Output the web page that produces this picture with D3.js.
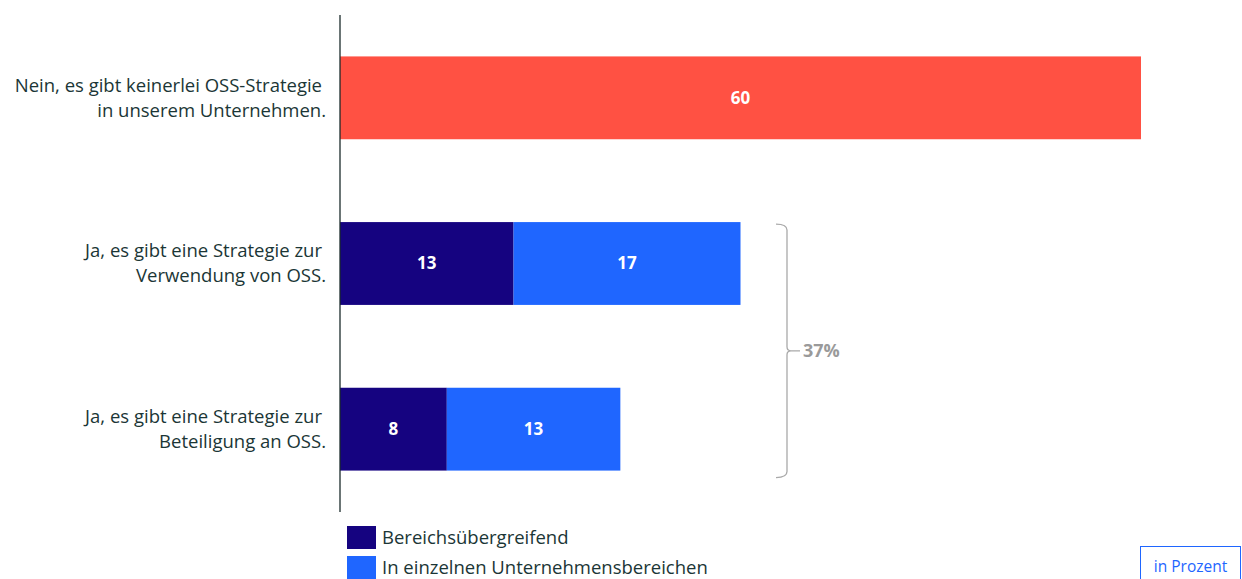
<!DOCTYPE html>
<html>
<head>
<meta charset="utf-8">
<script src="https://cdn.jsdelivr.net/npm/d3@7"></script>
<style>
  html, body { margin: 0; padding: 0; background: #fff; }
  svg { display: block; font-family: "Open Sans", "Noto Sans", sans-serif; }
</style>
</head>
<body>
<svg id="chart" width="1242" height="579"></svg>
<script>
// Categories (two-line labels) and stacked series values in percent
const categories = [
  ["Nein, es gibt keinerlei OSS-Strategie", "in unserem Unternehmen."],
  ["Ja, es gibt eine Strategie zur", "Verwendung von OSS."],
  ["Ja, es gibt eine Strategie zur", "Beteiligung an OSS."]
];
const noStrategy = [60, 0, 0];
const crossDept = [0, 13, 8];
const singleDept = [0, 17, 13];
const seriesNames = ["Bereichsübergreifend", "In einzelnen Unternehmensbereichen"];
const bracketLabel = "37%";
const unitLabel = "in Prozent";

const colors = { none: "#ff5143", cross: "#150380", single: "#1f66ff" };
const textColor = "#1b3636";

const svg = d3.select("#chart");

const x = d3.scaleLinear().domain([0, 60]).range([340, 1141]);
const y = d3.scaleBand().domain(d3.range(categories.length)).range([15, 512]).paddingInner(0.5).paddingOuter(0.25);

// stacked segments
const segments = [];
categories.forEach((c, i) => {
  let x0 = 0;
  [[noStrategy[i], colors.none], [crossDept[i], colors.cross], [singleDept[i], colors.single]].forEach(([v, col]) => {
    if (v > 0) {
      segments.push({ i, x0, x1: x0 + v, v, col });
      x0 += v;
    }
  });
});

svg.append("g").selectAll("rect").data(segments).join("rect")
  .attr("x", d => x(d.x0))
  .attr("y", d => y(d.i))
  .attr("width", d => x(d.x1) - x(d.x0))
  .attr("height", y.bandwidth())
  .attr("fill", d => d.col);

svg.append("g").selectAll("text").data(segments).join("text")
  .attr("x", d => (x(d.x0) + x(d.x1)) / 2)
  .attr("y", d => y(d.i) + y.bandwidth() / 2)
  .attr("dy", "0.35em")
  .attr("text-anchor", "middle")
  .attr("fill", "#fff")
  .attr("font-weight", 700)
  .attr("font-size", 17)
  .text(d => d.v);

// category axis line
svg.append("line")
  .attr("x1", 340).attr("x2", 340)
  .attr("y1", 15).attr("y2", 512)
  .attr("stroke", "#1b2b2b").attr("stroke-width", 1.3);

// category labels
const lab = svg.append("g").selectAll("text").data(categories).join("text")
  .attr("text-anchor", "end")
  .attr("fill", textColor)
  .attr("font-size", 18.5);
lab.each(function(lines, i) {
  const cy = y(i) + y.bandwidth() / 2;
  d3.select(this).selectAll("tspan").data(lines).join("tspan")
    .attr("x", (d, k) => k === 0 ? 322 : 326)
    .attr("y", (d, k) => cy + (k - 0.5) * 25)
    .attr("dy", "0.35em")
    .text(d => d);
});

// bracket grouping the two "Ja" rows
const bx = 787, bTop = y(1) + 2, bBot = y(2) + y.bandwidth() + 7, bMid = (bTop + bBot) / 2;
svg.append("path")
  .attr("d", `M${bx - 11},${bTop} Q${bx},${bTop} ${bx},${bTop + 6} L${bx},${bMid - 4} Q${bx},${bMid} ${bx + 4},${bMid} L${bx + 13},${bMid} M${bx},${bMid + 4} Q${bx},${bMid} ${bx + 4},${bMid} M${bx},${bMid + 4} L${bx},${bBot - 6} Q${bx},${bBot} ${bx - 11},${bBot}`)
  .attr("fill", "none").attr("stroke", "#a9a9a9").attr("stroke-width", 1.3);
svg.append("text")
  .attr("x", bx + 16).attr("y", bMid).attr("dy", "0.35em")
  .attr("fill", "#9a9a9a").attr("font-weight", 700).attr("font-size", 18)
  .text(bracketLabel);

// legend
const legend = svg.append("g").selectAll("g").data(seriesNames).join("g")
  .attr("transform", (d, i) => `translate(347,${526 + i * 30})`);
legend.append("rect").attr("width", 29).attr("height", 23)
  .attr("fill", (d, i) => i === 0 ? colors.cross : colors.single);
legend.append("text").attr("x", 35).attr("y", 11.5).attr("dy", "0.35em")
  .attr("fill", textColor).attr("font-size", 18.5).text(d => d);

// unit box
svg.append("rect").attr("x", 1140.5).attr("y", 546.5).attr("width", 100).attr("height", 40)
  .attr("fill", "none").attr("stroke", "#1f66ff").attr("stroke-width", 1);
svg.append("text").attr("x", 1190.5).attr("y", 567).attr("dy", "0.35em")
  .attr("text-anchor", "middle").attr("fill", "#1f66ff").attr("font-size", 15.5).text(unitLabel);
</script>
</body>
</html>
